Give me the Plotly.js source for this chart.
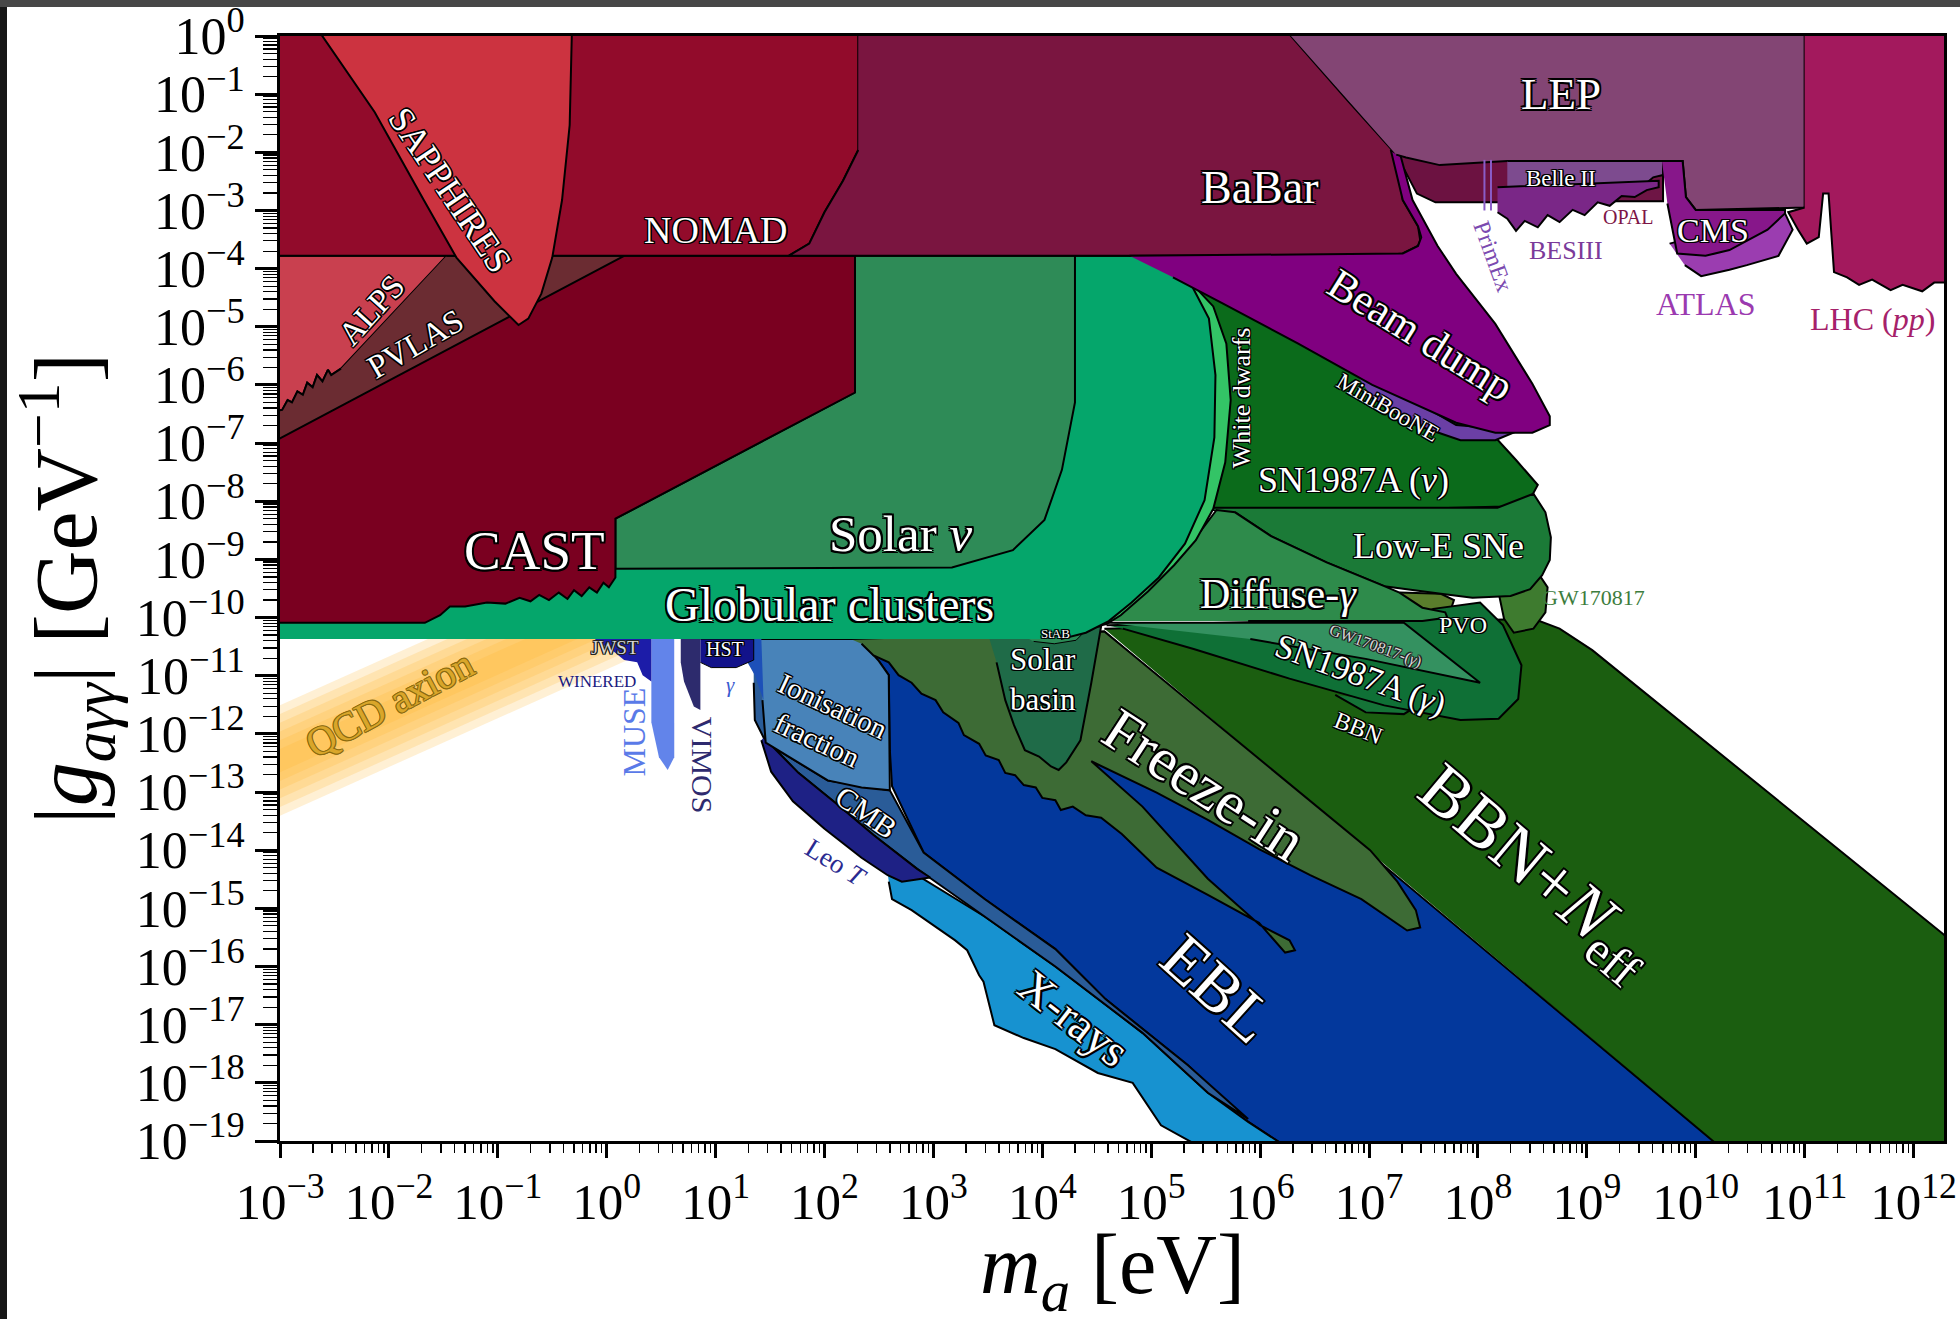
<!DOCTYPE html>
<html><head><meta charset="utf-8">
<script src="https://cdn.plot.ly/plotly-3.0.1.min.js"></script>
<style>
html,body{margin:0;padding:0;background:#fff;width:1960px;height:1319px;overflow:hidden}
#chart{position:absolute;left:0;top:0;width:1960px;height:1319px;background:#fff}
#topbar{position:absolute;left:0;top:0;width:1960px;height:7px;background:#474747;z-index:5}
#leftbar{position:absolute;left:0;top:7px;width:7px;height:1312px;background:#171717;z-index:5}
</style></head><body>
<div id="chart"></div><div id="topbar"></div><div id="leftbar"></div>
<script>
// ---- region outlines, log10(m_a / eV) and log10(g / GeV^-1) ----
const qcdX = [-3.05, 0.3];
const qcdCenter = [-12.5, -9.69];
const qcdHalfWidths = [0.95, 0.8, 0.65, 0.5, 0.35, 0.2];

const bbnNeffX = [4.57, 8.51, 8.75, 9.05, 12.35, 12.35, 10.19];
const bbnNeffY = [-10.19, -10.02, -10.19, -10.56, -15.56, -19.05, -19.05];
const eblX = [2.29, 4.57, 10.19, 6.20, 5.77, 5.34, 4.58, 4.12, 3.47, 2.91, 2.62, 2.60, 2.59, 2.50];
const eblY = [-10.37, -10.24, -19.05, -19.05, -18.52, -17.70, -16.56, -15.70, -14.84, -14.04, -12.90, -12.28, -10.99, -10.75];
const xraysX = [2.58, 2.85, 3.47, 4.12, 4.92, 5.52, 5.89, 6.20, 5.40, 5.09, 4.83, 4.51, 4.12, 3.83, 3.56, 3.50, 3.46, 3.42, 3.31, 3.20, 3.10, 2.91, 2.80, 2.62, 2.59];
const xraysY = [-14.39, -14.43, -15.14, -16.00, -17.14, -18.17, -18.67, -19.05, -19.05, -18.73, -18.00, -17.83, -17.42, -17.23, -17.01, -16.58, -16.26, -16.15, -15.72, -15.55, -15.42, -15.18, -15.03, -14.84, -14.54];
const cmbX = [1.35, 1.42, 1.46, 2.03, 2.60, 2.68, 2.91, 3.47, 4.12, 4.58, 5.34, 5.89, 5.52, 4.92, 4.12, 3.47, 2.97, 2.85, 2.45, 2.11, 1.76, 1.44, 1.36, 1.35];
const cmbY = [-10.37, -10.37, -12.15, -12.80, -12.97, -13.25, -14.04, -14.84, -15.70, -16.56, -17.70, -18.62, -18.17, -17.14, -16.00, -15.14, -14.47, -14.32, -13.74, -13.20, -12.67, -12.06, -11.76, -11.12];
const leoTX = [1.44, 1.76, 2.11, 2.45, 2.85, 2.97, 2.71, 2.58, 2.34, 2.00, 1.71, 1.51, 1.42];
const leoTY = [-12.06, -12.67, -13.20, -13.74, -14.32, -14.47, -14.54, -14.43, -14.13, -13.63, -13.16, -12.65, -12.11];
const ionX = [1.40, 2.32, 2.50, 2.59, 2.60, 2.34, 2.03, 1.76, 1.54, 1.46, 1.43];
const ionY = [-10.37, -10.37, -10.75, -10.99, -12.97, -12.92, -12.80, -12.49, -12.24, -12.15, -11.42];
const jwstX = [-0.11, 0.41, 0.41, 0.33, 0.28, 0.16, 0.05, -0.07];
const jwstY = [-10.37, -10.37, -11.10, -10.99, -10.77, -10.73, -10.56, -10.43];
const museX = [0.41, 0.62, 0.62, 0.56, 0.48, 0.41];
const museY = [-10.37, -10.37, -12.40, -12.62, -12.40, -11.80];
const vimosX = [0.68, 0.86, 0.86, 0.80, 0.71, 0.68];
const vimosY = [-10.37, -10.37, -11.59, -11.53, -11.10, -10.77];
const hstX = [0.86, 1.35, 1.35, 1.19, 0.96, 0.86];
const hstY = [-10.37, -10.37, -10.73, -10.86, -10.86, -10.77];
const gamTelX = [1.28, 1.42, 1.44, 1.36, 1.28];
const gamTelY = [-10.37, -10.37, -11.42, -10.99, -10.73];
const freezeX = [2.24, 4.57, 7.01, 7.26, 7.43, 7.47, 7.35, 6.93, 6.46, 5.99, 5.52, 5.05, 4.45, 4.92, 5.52, 6.00, 6.27, 6.32, 6.23, 5.99, 5.52, 5.05, 4.73, 4.54, 4.40, 4.28, 4.17, 4.12, 4.00, 3.94, 3.83, 3.75, 3.66, 3.60, 3.48, 3.42, 3.28, 3.23, 3.09, 3.02, 2.89, 2.80, 2.68, 2.59, 2.45, 2.34];
const freezeY = [-10.37, -10.24, -14.00, -14.54, -15.03, -15.33, -15.38, -14.84, -14.43, -13.98, -13.48, -13.01, -12.47, -13.25, -14.49, -15.29, -15.55, -15.72, -15.76, -15.25, -14.77, -14.30, -13.72, -13.44, -13.40, -13.25, -13.31, -13.14, -13.10, -12.92, -12.88, -12.71, -12.67, -12.45, -12.37, -12.17, -12.02, -11.81, -11.63, -11.42, -11.31, -11.12, -10.99, -10.77, -10.65, -10.45];
const solarBasinX = [3.50, 4.54, 4.45, 4.35, 4.22, 4.15, 4.08, 3.97, 3.84, 3.74, 3.66, 3.58];
const solarBasinY = [-10.28, -10.15, -11.12, -12.11, -12.49, -12.62, -12.56, -12.39, -12.28, -11.85, -11.42, -10.77];
const stabX = [3.77, 4.40, 4.31, 4.11, 3.92];
const stabY = [-10.26, -10.22, -10.39, -10.45, -10.41];
const bbnX = [6.69, 6.97, 7.32, 7.43, 7.26];
const bbnY = [-11.33, -11.63, -11.66, -11.53, -11.45];
const gwX = [8.24, 8.55, 8.64, 8.62, 8.51, 8.33, 8.24, 8.18];
const gwY = [-9.16, -9.23, -9.48, -9.91, -10.19, -10.26, -10.02, -9.48];
const oliveX = [7.28, 7.66, 7.78, 7.75, 7.55, 7.38];
const oliveY = [-9.57, -9.59, -9.70, -9.87, -9.89, -9.74];
const sn87gX = [4.59, 7.38, 7.59, 8.02, 8.23, 8.40, 8.37, 8.19, 7.84, 7.14, 6.27, 5.39, 4.74];
const sn87gY = [-10.13, -10.02, -9.85, -9.74, -10.13, -10.82, -11.40, -11.74, -11.76, -11.51, -11.05, -10.54, -10.19];
const gwGamX = [4.59, 7.32, 8.02, 6.97, 5.91];
const gwGamY = [-10.09, -10.09, -11.12, -10.71, -10.37];
const sn87nX = [4.74, 7.80, 8.16, 8.35, 8.55, 8.50, 8.24, 7.03, 5.43, 5.43];
const sn87nY = [-3.6, -6.55, -6.90, -7.29, -7.72, -7.89, -8.09, -8.15, -8.15, -3.6];
const lowEX = [5.43, 8.18, 8.51, 8.62, 8.67, 8.66, 8.59, 8.48, 8.30, 7.95, 7.66, 7.14, 6.61, 6.10, 5.77];
const lowEY = [-8.11, -8.11, -7.87, -8.19, -8.62, -9.01, -9.27, -9.51, -9.63, -9.66, -9.59, -9.46, -9.05, -8.60, -8.19];
const diffX = [4.59, 4.97, 5.26, 5.45, 5.60, 5.77, 6.10, 6.61, 7.14, 7.28, 7.49, 7.70, 7.72, 7.49, 5.89];
const diffY = [-10.06, -9.48, -8.95, -8.52, -8.15, -8.19, -8.60, -9.05, -9.46, -9.57, -9.83, -9.91, -10.00, -10.06, -10.06];
const wdX = [4.74, 5.32, 5.57, 5.69, 5.73, 5.68, 5.57, 5.41, 5.21, 4.97, 4.72, 4.59, 4.29, 4.29];
const wdY = [-3.78, -4.15, -4.65, -5.29, -6.26, -7.33, -8.13, -8.67, -9.10, -9.55, -9.96, -10.11, -10.24, -3.78];
const gcX = [-3.05, -3.05, 3.8, 3.8, 4.86, 5.12, 5.38, 5.53, 5.59, 5.58, 5.49, 5.31, 5.07, 4.82, 4.61, 4.40, 4.17];
const gcY = [-10.37, -8.5, -8.5, -3.78, -3.78, -3.96, -4.32, -4.86, -5.83, -6.90, -7.98, -8.73, -9.31, -9.74, -10.06, -10.26, -10.37];
const solarNuX = [0.08, 0.08, 2.28, 2.28, 4.30, 4.30, 4.18, 4.02, 3.73, 3.17, 0.08];
const solarNuY = [-9.16, -8.30, -6.13, -3.78, -3.78, -6.30, -7.46, -8.32, -8.84, -9.14, -9.16];
const castX = [-3.05, 2.28, 2.28, 0.08, 0.08, 0.02, -0.03, -0.09, -0.16, -0.23, -0.30, -0.36, -0.44, -0.53, -0.62, -0.70, -0.80, -0.93, -1.10, -1.30, -1.44, -1.53, -1.67, -3.05];
const castY = [-3.78, -3.78, -6.13, -8.30, -9.31, -9.48, -9.40, -9.57, -9.48, -9.63, -9.53, -9.68, -9.57, -9.70, -9.61, -9.72, -9.66, -9.76, -9.74, -9.81, -9.81, -9.96, -10.09, -10.09];
const alpsX = [-3.05, -1.47, -2.44, -2.53, -2.56, -2.61, -2.66, -2.70, -2.75, -2.79, -2.84, -2.89, -2.93, -2.98, -3.05];
const alpsY = [-3.78, -3.78, -5.72, -5.83, -5.74, -5.94, -5.83, -6.04, -5.96, -6.17, -6.11, -6.30, -6.26, -6.43, -6.45];
const pvlasX = [-1.47, 0.16, -3.05, -3.05, -2.98, -2.93, -2.89, -2.84, -2.79, -2.75, -2.70, -2.66, -2.61, -2.56, -2.53, -2.44];
const pvlasY = [-3.78, -3.78, -6.97, -6.45, -6.43, -6.26, -6.30, -6.11, -6.17, -5.96, -6.04, -5.83, -5.94, -5.74, -5.83, -5.72];
const nomadX = [-3.05, 2.31, 2.31, 2.17, 2.00, 1.86, 1.67, -3.05];
const nomadY = [0.05, 0.05, -1.96, -2.49, -3.03, -3.57, -3.78, -3.78];
const sapphX = [-2.63, -2.13, -1.68, -1.38, -1.03, -0.87, -0.81, -0.72, -0.60, -0.50, -0.41, -0.34, -0.32];
const sapphY = [0.05, -1.31, -2.82, -3.81, -4.56, -4.86, -4.97, -4.86, -4.43, -3.81, -2.82, -1.53, 0.05];
const babarX = [2.31, 6.26, 6.80, 7.25, 7.31, 7.45, 7.47, 7.45, 7.31, 7.09, 1.67, 1.86, 2.00, 2.17, 2.31];
const babarY = [0.05, 0.05, -1.10, -2.04, -2.82, -3.27, -3.51, -3.61, -3.74, -3.78, -3.78, -3.57, -3.03, -2.49, -1.96];
const babarStripX = [7.25, 8.29, 8.29, 7.61, 7.44, 7.32];
const babarStripY = [-2.04, -2.13, -2.86, -2.86, -2.71, -2.28];
const minibooneX = [6.81, 7.80, 8.18, 8.35, 8.16, 7.84, 7.37, 7.03];
const minibooneY = [-5.61, -6.69, -6.75, -6.80, -6.95, -6.95, -6.65, -6.22];
const beamX = [4.80, 7.31, 7.45, 7.48, 7.45, 7.31, 7.20, 7.29, 7.40, 7.55, 7.63, 7.80, 8.16, 8.50, 8.66, 8.66, 8.50, 8.16, 7.80, 7.03, 6.35, 5.66, 5.20];
const beamY = [-3.78, -3.74, -3.61, -3.46, -3.27, -2.82, -1.96, -2.06, -2.82, -3.35, -3.61, -4.09, -4.95, -5.98, -6.54, -6.69, -6.82, -6.82, -6.65, -6.00, -5.29, -4.60, -4.15];
const lepX = [6.26, 11.0, 11.0, 10.00, 9.91, 9.88, 8.27, 7.65, 7.34, 7.25];
const lepY = [0.05, 0.05, -2.95, -2.99, -2.77, -2.15, -2.15, -2.22, -2.09, -2.04];
const opalX = [9.21, 9.70, 9.70, 9.21];
const opalY = [-2.43, -2.39, -2.84, -2.84];
const belleX = [8.27, 9.70, 9.70, 9.61, 9.53, 9.44, 9.32, 9.23, 9.13, 9.04, 8.92, 8.81, 8.70, 8.58, 8.47, 8.35, 8.27];
const belleY = [-2.15, -2.15, -2.39, -2.43, -2.56, -2.52, -2.65, -2.60, -2.75, -2.67, -2.82, -2.73, -2.88, -2.77, -2.92, -2.86, -2.99];
const besX = [8.18, 9.66, 9.66, 9.55, 9.44, 9.32, 9.21, 9.10, 8.98, 8.87, 8.75, 8.64, 8.55, 8.43, 8.35, 8.27, 8.18];
const besY = [-2.60, -2.49, -2.60, -2.65, -2.77, -2.75, -2.92, -2.86, -3.08, -2.99, -3.20, -3.08, -3.29, -3.18, -3.35, -3.14, -3.03];
const primexX1 = [8.06, 8.06], primexX2 = [8.12, 8.12], primexY = [-2.13, -3.0];
const atlasX = [9.76, 10.82, 10.89, 10.76, 10.47, 10.31, 10.05, 9.90];
const atlasY = [-3.57, -3.05, -3.33, -3.78, -3.94, -4.02, -4.13, -3.94];
const cmsX = [9.69, 9.88, 9.91, 10.00, 10.82, 10.82, 10.66, 10.31, 10.09, 9.83, 9.74];
const cmsY = [-2.15, -2.15, -2.77, -2.99, -2.99, -3.05, -3.33, -3.68, -3.78, -3.74, -2.88];
const lhcX = [11.0, 12.35, 12.35, 12.19, 12.08, 11.90, 11.79, 11.62, 11.50, 11.39, 11.27, 11.22, 11.17, 11.13, 11.02, 10.94, 10.85, 11.0];
const lhcY = [0.05, 0.05, -4.24, -4.24, -4.39, -4.28, -4.37, -4.19, -4.28, -4.15, -4.06, -2.71, -2.71, -3.46, -3.57, -3.33, -3.03, -2.95];

// ---- tick labels ----
const xTickExp = [-3,-2,-1,0,1,2,3,4,5,6,7,8,9,10,11,12];
const yTickExp = [0,-1,-2,-3,-4,-5,-6,-7,-8,-9,-10,-11,-12,-13,-14,-15,-16,-17,-18,-19];

// ---- labels: text, log m, log g ----
const labelText = ['SAPPHIRES','ALPS','PVLAS','NOMAD','CAST','Solar <i>ν</i>','Globular clusters','BaBar','LEP','Belle II','OPAL','BESIII','PrimEx','CMS','ATLAS','LHC (<i>pp</i>)','Beam dump','MiniBooNE','White dwarfs','SN1987A (<i>ν</i>)','Low-E SNe','Diffuse-<i>γ</i>','GW170817','PVO','GW170817-(<i>γ</i>)','SN1987A (<i>γ</i>)','BBN','BBN+<i>N</i><sub>eff</sub>','Freeze-in','EBL','X-rays','Leo <i>T</i>','CMB','Ionisation<br>fraction','Solar<br>basin','StAB','HST','JWST','WINERED','MUSE','VIMOS','<i>γ</i>','QCD axion'];
const labelX = [-1.44,-2.16,-1.76,1.0,-0.66,2.70,2.05,6.0,8.76,8.76,9.38,8.81,8.14,10.16,10.09,11.62,7.47,7.17,5.83,6.86,7.64,6.17,9.06,7.86,7.06,6.92,6.90,8.52,5.49,5.62,4.29,2.11,2.39,2.00,4.01,4.12,1.09,0.08,-0.09,0.25,0.88,1.14,-1.99];
const labelY = [-2.65,-4.71,-5.29,-3.33,-8.84,-8.56,-9.78,-2.60,-0.99,-2.45,-3.12,-3.68,-3.78,-3.35,-4.60,-4.86,-5.14,-6.39,-6.22,-7.63,-8.77,-9.59,-9.66,-10.13,-10.49,-10.99,-11.89,-14.39,-12.88,-16.37,-16.90,-14.22,-13.35,-11.81,-11.06,-10.27,-10.54,-10.52,-11.10,-11.96,-12.54,-11.16,-11.48];

// ---- styling: [font size, angle, colour] ----
const labelStyle = [
 [36,56,'w'],[33,-48,'w'],[33,-30,'w'],[38,0,'w'],[55,0,'w'],[51,0,'w'],[48,0,'w'],[46,0,'w'],[45,0,'w'],[23,0,'w'],
 [20,0,'#7d1546'],[26,0,'#7b3a9a'],[24,70,'#7b4ab0'],[34,0,'w'],[32,0,'#9b3ab0'],[32,0,'#a6216a'],[43,32,'w'],[23,30,'w'],[26,-90,'w'],[36,0,'w'],
 [36,0,'w'],[42,0,'w'],[22,0,'#3d7d3d'],[24,0,'w'],[16,20,'g'],[34,20,'w'],[24,22,'w'],[70,40,'w'],[60,33,'w'],[66,42,'w'],
 [46,38,'w'],[27,32,'#2a2a90'],[30,35,'w'],[29,25,'w'],[31,0,'w'],[13,0,'w'],[20,0,'w'],[19,0,'g'],[17,0,'#1a1a80'],[32,-90,'#5a7ae8'],
 [30,90,'#2e2a6e'],[21,0,'#3a5ad0'],[40,-28,'#d9a62a']
];

const P = v => v.map(e => Math.pow(10, e));
function poly(x, y, fill, lw) {
  return {x: P(x), y: P(y), type: 'scatter', mode: 'lines', fill: 'toself', fillcolor: fill,
    line: {color: lw === 0 ? 'rgba(0,0,0,0)' : '#000', width: lw === undefined ? 2 : lw},
    hoverinfo: 'skip', showlegend: false};
}
const traces = [];
qcdHalfWidths.forEach(w => {
  const hi = qcdCenter.map(c => c + w), lo = qcdCenter.map(c => c - w);
  traces.push(poly(qcdX.concat(qcdX.slice().reverse()), hi.concat(lo.slice().reverse()), 'rgba(255,178,40,0.2)', 0));
});
traces.push(
  poly(bbnNeffX, bbnNeffY, '#1b5e10'),
  poly(eblX, eblY, '#03389c'),
  poly(xraysX, xraysY, '#1792d0'),
  poly(cmbX, cmbY, '#2a5c98'),
  poly(leoTX, leoTY, '#1e2185'),
  poly(ionX, ionY, '#4883b9'),
  poly(gamTelX, gamTelY, '#1d50b8', 0),
  poly(hstX, hstY, '#12128a', 1),
  poly(vimosX, vimosY, '#2d2b6d', 0),
  poly(museX, museY, 'rgba(70,110,230,0.85)', 0),
  poly(jwstX, jwstY, '#1c1ca8', 0),
  poly(freezeX, freezeY, '#3d6b35'),
  poly(solarBasinX, solarBasinY, '#1f6b48'),
  poly(stabX, stabY, '#2a8a55', 1),
  poly(bbnX, bbnY, '#157337'),
  poly(gwX, gwY, '#3e7b2f'),
  poly(oliveX, oliveY, '#5a7d2c'),
  poly(sn87gX, sn87gY, '#0f7036'),
  poly(gwGamX, gwGamY, '#349160'),
  poly(sn87nX, sn87nY, '#0b6b1b'),
  poly(lowEX, lowEY, '#1b7a37'),
  poly(diffX, diffY, '#2e8b4b'),
  poly(wdX, wdY, '#33c466'),
  poly(gcX, gcY, '#05a66b'),
  poly(solarNuX, solarNuY, '#2e8b57'),
  poly(castX, castY, '#7a0020'),
  poly(alpsX, alpsY, '#c9404f'),
  poly(pvlasX, pvlasY, '#6b2c32'),
  poly(nomadX, nomadY, '#920b2b'),
  poly(sapphX, sapphY, '#cc3340'),
  poly(babarX, babarY, '#7a1540'),
  poly(babarStripX, babarStripY, '#6c1241'),
  poly(minibooneX, minibooneY, '#6b3fa5'),
  poly(beamX, beamY, '#800080'),
  poly(lepX, lepY, '#834574'),
  poly(opalX, opalY, '#6e1545'),
  poly(belleX, belleY, '#7d4b8f'),
  poly(besX, besY, '#7a2787'),
  {x: P(primexX1), y: P(primexY), type:'scatter', mode:'lines', line:{color:'#8a5cc8', width:2}, hoverinfo:'skip', showlegend:false},
  {x: P(primexX2), y: P(primexY), type:'scatter', mode:'lines', line:{color:'#8a5cc8', width:2}, hoverinfo:'skip', showlegend:false},
  poly(atlasX, atlasY, '#9b3db0'),
  poly(cmsX, cmsY, '#87178a'),
  poly(lhcX, lhcY, '#a3195d')
);

function outline(w, c) {
  const s = [];
  [[-w,-w],[w,-w],[-w,w],[w,w],[0,w],[0,-w],[w,0],[-w,0]].forEach(p => s.push(p[0]+'px '+p[1]+'px 0 '+c));
  return s.join(', ');
}
const annotations = labelText.map((t, i) => {
  const st = labelStyle[i];
  let color = st[2], shadow = 'none';
  if (color === 'w') { color = '#ffffff'; shadow = outline(st[0] >= 40 ? 1.8 : 1.3, '#000'); }
  else if (color === 'g') { color = '#d8d8d8'; shadow = outline(1, '#222'); }
  else if (color === '#d9a62a') { shadow = outline(0.9, '#8a6a10'); }
  return {text: t, x: labelX[i], y: labelY[i], xref: 'x', yref: 'y', showarrow: false,
    textangle: st[1], xanchor: 'center', yanchor: 'middle',
    font: {family: 'Liberation Serif, serif', size: st[0], color: color, shadow: shadow}};
});
// x-axis title placed as a paper annotation (below the tick labels)
annotations.push({text: '<i>m</i><sub><i>a</i></sub> [eV]', xref: 'paper', yref: 'paper', x: 0.5, y: -0.118,
  xanchor: 'center', yanchor: 'middle', showarrow: false,
  font: {family: 'Liberation Serif, serif', size: 84, color: '#000'}});

const sup = e => '10<sup>' + (e < 0 ? '\u2212' : '') + Math.abs(e) + '</sup>';
const layout = {
  width: 1960, height: 1319,
  margin: {l: 280, r: 16, t: 36, b: 178},
  paper_bgcolor: '#ffffff', plot_bgcolor: '#ffffff',
  showlegend: false,
  font: {family: 'Liberation Serif, serif', color: '#000'},
  xaxis: {type: 'log', range: [-3, 12.28], tickmode: 'array', tickvals: P(xTickExp), ticktext: xTickExp.map(sup),
    ticks: 'outside', ticklen: 14, tickwidth: 3, tickcolor: '#000', showline: true, linewidth: 3, linecolor: '#000',
    mirror: true, showgrid: false, zeroline: false, tickfont: {size: 51, color: '#000'}, ticklabeloverflow: 'allow',
    minor: {ticks: 'outside', ticklen: 9, tickwidth: 1.5, tickcolor: '#000', dtick: 'D1', showgrid: false}},
  yaxis: {type: 'log', range: [-19, 0], tickmode: 'array', tickvals: P(yTickExp), ticktext: yTickExp.map(sup),
    ticks: 'outside', ticklen: 22, tickwidth: 3, tickcolor: '#000', showline: true, linewidth: 3, linecolor: '#000',
    mirror: true, showgrid: false, zeroline: false, tickfont: {size: 52, color: '#000'}, ticklabeloverflow: 'allow',
    minor: {ticks: 'outside', ticklen: 14, tickwidth: 1.2, tickcolor: '#000', dtick: 'D1', showgrid: false},
    title: {text: '|<i>g</i><sub><i>aγγ</i></sub>| [GeV<sup>\u22121</sup>]', font: {size: 88, color: '#000'}, standoff: 10}},
  annotations: annotations
};
Plotly.newPlot('chart', traces, layout, {staticPlot: true, displayModeBar: false});
</script></body></html>
